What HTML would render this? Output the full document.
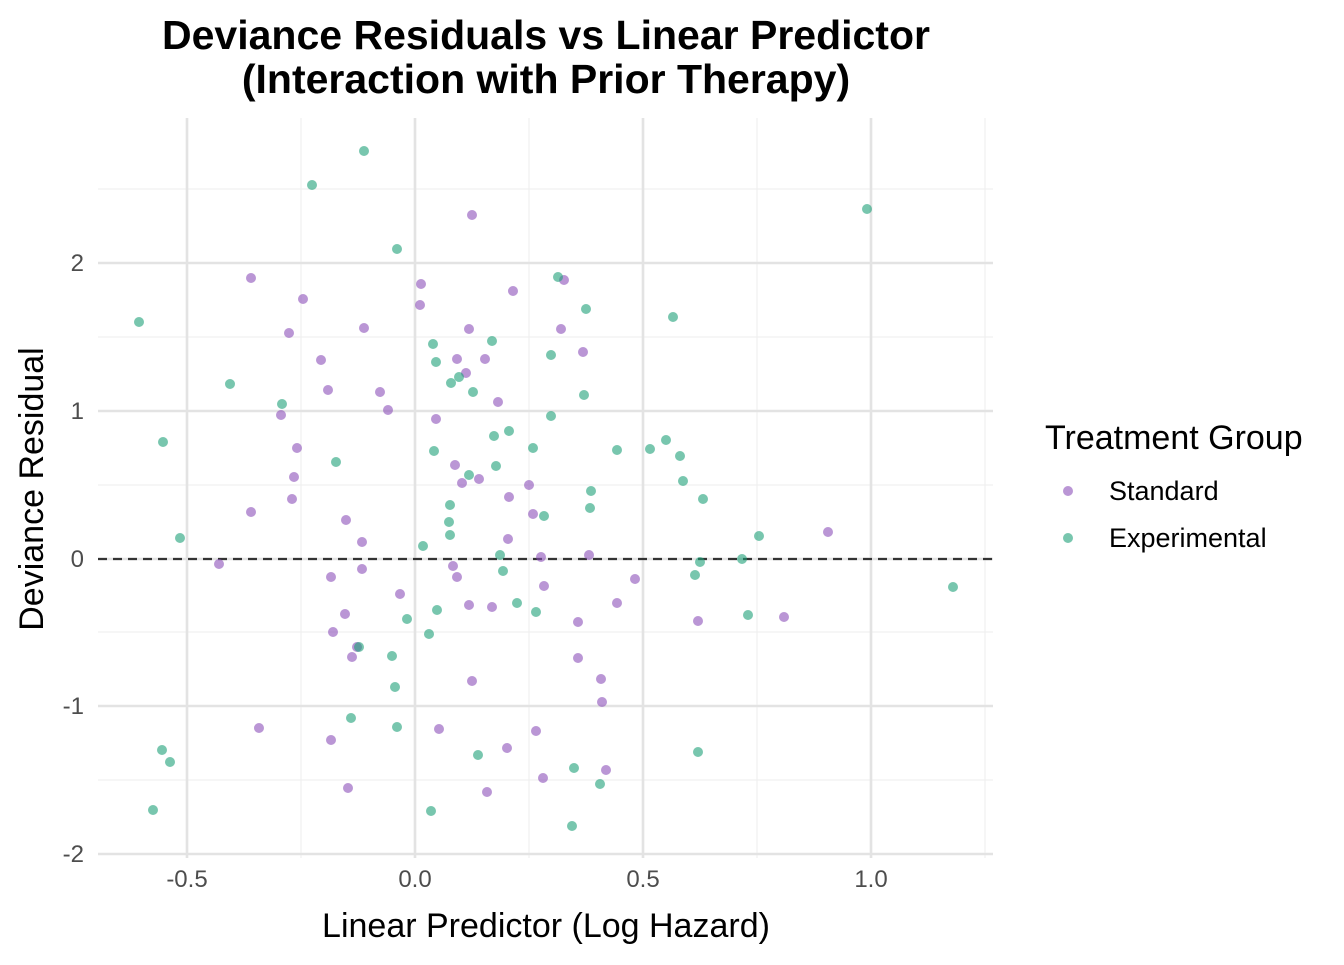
<!DOCTYPE html>
<html><head><meta charset="utf-8"><style>body{margin:0;background:#fff}</style></head><body>
<svg width="1344" height="960" xmlns="http://www.w3.org/2000/svg" font-family="Liberation Sans, Arial, sans-serif">
<rect width="1344" height="960" fill="#fff"/>
<g stroke="#f0f0f0" stroke-width="1.2">
<line x1="301" x2="301" y1="118" y2="858"/><line x1="529" x2="529" y1="118" y2="858"/><line x1="757" x2="757" y1="118" y2="858"/><line x1="985" x2="985" y1="118" y2="858"/>
<line x1="98" x2="993" y1="189" y2="189"/><line x1="98" x2="993" y1="337" y2="337"/><line x1="98" x2="993" y1="485" y2="485"/><line x1="98" x2="993" y1="632" y2="632"/><line x1="98" x2="993" y1="780" y2="780"/>
</g>
<g stroke="#e3e3e3" stroke-width="2.6">
<line x1="187" x2="187" y1="118" y2="858"/><line x1="415" x2="415" y1="118" y2="858"/><line x1="643" x2="643" y1="118" y2="858"/><line x1="871" x2="871" y1="118" y2="858"/>
<line x1="98" x2="993" y1="263" y2="263"/><line x1="98" x2="993" y1="411" y2="411"/><line x1="98" x2="993" y1="559" y2="559"/><line x1="98" x2="993" y1="706" y2="706"/><line x1="98" x2="993" y1="854" y2="854"/>
</g>
<line x1="98" x2="993" y1="559" y2="559" stroke="#333" stroke-width="2.2" stroke-dasharray="9,6"/>
<g id="pts"></g>
<g font-size="24" fill="#4d4d4d" text-anchor="middle">
<text x="187" y="887">-0.5</text><text x="415" y="887">0.0</text><text x="643" y="887">0.5</text><text x="871" y="887">1.0</text>
</g>
<g font-size="24" fill="#4d4d4d" text-anchor="end">
<text x="84" y="271">2</text><text x="84" y="419">1</text><text x="84" y="567">0</text><text x="84" y="714">-1</text><text x="84" y="862">-2</text>
</g>
<text x="546" y="937" font-size="34" text-anchor="middle">Linear Predictor (Log Hazard)</text>
<text transform="translate(43,489) rotate(-90)" font-size="34" text-anchor="middle">Deviance Residual</text>
<text x="546" y="49" font-size="41" font-weight="bold" text-anchor="middle">Deviance Residuals vs Linear Predictor</text>
<text x="546" y="93" font-size="41" font-weight="bold" text-anchor="middle">(Interaction with Prior Therapy)</text>
<text x="1045" y="449" font-size="34">Treatment Group</text>
<circle cx="1068" cy="491" r="5" fill="rgba(140,80,185,0.6)"/>
<circle cx="1068" cy="538" r="5" fill="rgba(30,160,120,0.6)"/>
<text x="1109" y="500" font-size="27">Standard</text>
<text x="1109" y="547" font-size="27">Experimental</text>
</svg>
<script>
var G=[[364,151],[312,185],[867,209],[397,249],[139,322],[673,317],[586,309],[558,277],[433,344],[436,362],[492,341],[551,355],[230,384],[282,404],[459,377],[451,383],[473,392],[584,395],[551,416],[163,442],[336,462],[434,451],[494,436],[509,431],[533,448],[617,450],[650,449],[666,440],[680,456],[683,481],[469,475],[496,466],[591,491],[703,499],[450,505],[590,508],[544,516],[449,522],[450,535],[180,538],[423,546],[500,555],[759,536],[742,559],[700,562],[695,575],[503,571],[953,587],[437,610],[517,603],[536,612],[407,619],[429,634],[748,615],[359,647],[392,656],[395,687],[351,718],[397,727],[162,750],[170,762],[478,755],[574,768],[600,784],[698,752],[153,810],[431,811],[572,826]];
var P=[[472,215],[251,278],[421,284],[303,299],[513,291],[564,280],[420,305],[289,333],[364,328],[469,329],[561,329],[321,360],[583,352],[457,359],[485,359],[466,373],[328,390],[380,392],[498,402],[281,415],[388,410],[436,419],[297,448],[455,465],[462,483],[479,479],[294,477],[509,497],[529,485],[292,499],[251,512],[533,514],[346,520],[508,539],[362,542],[219,564],[541,557],[589,555],[828,532],[453,566],[362,569],[457,577],[331,577],[635,579],[544,586],[400,594],[617,603],[469,605],[492,607],[345,614],[578,622],[698,621],[784,617],[333,632],[357,647],[352,657],[578,658],[472,681],[601,679],[602,702],[259,728],[439,729],[536,731],[331,740],[507,748],[348,788],[487,792],[543,778],[606,770]];
var g=document.getElementById('pts'),s='';
P.forEach(function(p){s+='<circle cx="'+p[0]+'" cy="'+p[1]+'" r="5" fill="rgba(140,80,185,0.6)"/>';});
G.forEach(function(p){s+='<circle cx="'+p[0]+'" cy="'+p[1]+'" r="5" fill="rgba(30,160,120,0.6)"/>';});
g.innerHTML=s;
</script>
</body></html>
